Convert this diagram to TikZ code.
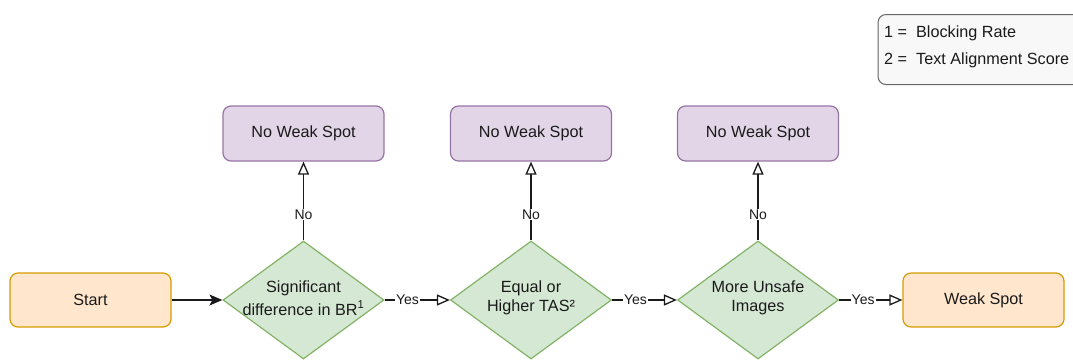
\documentclass[tikz,border=0pt]{standalone}
\usepackage{fontspec}
\setmainfont{Liberation Sans}
\usetikzlibrary{shapes.geometric,arrows.meta}

\definecolor{startfill}{HTML}{FFE6CC}
\definecolor{startline}{HTML}{D79B00}
\definecolor{decfill}{HTML}{D5E8D4}
\definecolor{decline}{HTML}{82B366}
\definecolor{nofill}{HTML}{E1D5E7}
\definecolor{noline}{HTML}{9673A6}
\definecolor{legfill}{HTML}{F8F8F8}
\definecolor{legline}{HTML}{666666}
\definecolor{ink}{HTML}{1A1A1A}

\tikzset{
  mainfont/.style={font=\fontsize{16.2}{19.5}\selectfont, text=ink},
  edgefont/.style={font=\fontsize{14}{16}\selectfont, text=ink},
  termbox/.style={draw=startline, fill=startfill, line width=1.2pt, rounded corners=8pt,
    minimum width=161pt, minimum height=54pt, mainfont},
  outbox/.style={draw=noline, fill=nofill, line width=1.2pt, rounded corners=8pt,
    minimum width=161pt, minimum height=55pt, mainfont},
  decbox/.style={diamond, draw=decline, fill=decfill, line width=1.2pt,
    minimum width=161pt, minimum height=118pt, inner sep=0pt},
  dectext/.style={mainfont, align=center, inner sep=0pt},
  legbox/.style={draw=legline, fill=legfill, line width=1pt, rounded corners=8pt},
  flow/.style={draw=ink, line width=1.3pt},
  opentip/.style={-{Triangle[open, length=13pt, width=11pt]}},
  filltip/.style={-{Stealth[length=13pt, width=11pt, inset=3pt]}},
  edgelabel/.style={edgefont, fill=white, inner sep=1pt}
}

\begin{document}
\begin{tikzpicture}[x=1pt, y=-1pt]
  \useasboundingbox (0,0) rectangle (1073,360);
  \clip (0,0) rectangle (1073,360);

  % legend
  \node[legbox, anchor=north west, minimum width=215pt, minimum height=70pt] (leg) at (877.5,14) {};
  \node[mainfont, anchor=west, inner sep=0pt] (leg1) at (884,33) {1 =\ \ Blocking Rate};
  \node[mainfont, anchor=west, inner sep=0pt] (leg2) at (884,60) {2 =\ \ Text Alignment Score};

  % terminals
  \node[termbox] (start) at (90.5,300) {Start};
  \node[termbox] (weak) at (983.5,300) {Weak Spot};

  % decisions
  \node[decbox] (d1) at (303.5,300) {};
  \node[dectext] (d1t) at (303.5,298) {Significant\\[3pt]difference in BR\textsuperscript{1}};
  \node[decbox] (d2) at (531,300) {};
  \node[dectext] (d2t) at (531,298) {Equal or\\Higher TAS²};
  \node[decbox] (d3) at (758,300) {};
  \node[dectext] (d3t) at (758,298) {More Unsafe\\Images};

  % outcomes
  \node[outbox] (n1) at (303.5,133.5) {No Weak Spot};
  \node[outbox] (n2) at (531,133.5) {No Weak Spot};
  \node[outbox] (n3) at (758,133.5) {No Weak Spot};

  % connectors
  \draw[flow, filltip] (start.east) -- (d1.west);
  \draw[flow, opentip] (d1.east) -- node[edgelabel, pos=0.35] (y1) {Yes} (d2.west);
  \draw[flow, opentip] (d2.east) -- node[edgelabel, pos=0.36] (y2) {Yes} (d3.west);
  \draw[flow, opentip] (d3.east) -- node[edgelabel, pos=0.38] (y3) {Yes} (weak.west);
  \draw[flow, opentip] (d1.north) -- node[edgelabel, pos=0.33] (m1) {No} (n1.south);
  \draw[flow, opentip] (d2.north) -- node[edgelabel, pos=0.33] (m2) {No} (n2.south);
  \draw[flow, opentip] (d3.north) -- node[edgelabel, pos=0.33] (m3) {No} (n3.south);
\end{tikzpicture}
\end{document}
